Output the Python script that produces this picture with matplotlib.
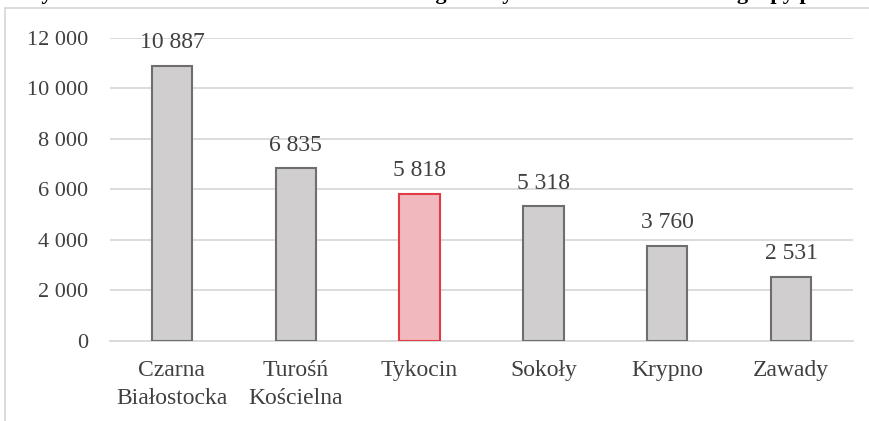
import matplotlib
matplotlib.use("Agg")
import matplotlib.pyplot as plt
from matplotlib.patches import Rectangle

categories = ["Czarna\nBiałostocka", "Turośń\nKościelna", "Tykocin", "Sokoły", "Krypno", "Zawady"]
values = [10887, 6835, 5818, 5318, 3760, 2531]
value_labels = ["10 887", "6 835", "5 818", "5 318", "3 760", "2 531"]
yticks = [0, 2000, 4000, 6000, 8000, 10000, 12000]
ytick_labels = ["0", "2 000", "4 000", "6 000", "8 000", "10 000", "12 000"]
highlight = "Tykocin"
title_text = ("Wykres 1. Liczba mieszkańców w 2021 r. w gmin Tykocin i 5 obszarach dla "
              "grupy porównawczej")

W, H = 869, 421
fig = plt.figure(figsize=(W / 100, H / 100), dpi=100)
plt.rcParams['font.family'] = ['Liberation Serif', 'DejaVu Serif']

# outer chart border
fig.patches.append(Rectangle((5 / W, -0.1), 1.1, 1 - 8 / H + 0.1, transform=fig.transFigure,
                             fill=False, edgecolor="#D9D9D9", linewidth=1.3))

# clipped title (only descenders visible)
fig.text(20 / W, 1 + 1.0 / H, title_text, ha="left", va="baseline", fontsize=16,
         fontweight="bold", color="black")

ax = fig.add_axes([110 / W, 1 - 340.7 / H, 743 / W, (340.7 - 37.7) / H])
x = range(len(categories))
fills = ["#F1B9BD" if c.replace("\n", " ") == highlight else "#D0CECE" for c in categories]
edges = ["#E03C45" if c.replace("\n", " ") == highlight else "#6E6E6E" for c in categories]
bars = ax.bar(x, values, width=0.325, color=fills, edgecolor=edges, linewidth=1.5, zorder=3)

for xi, v, lab in zip(x, values, value_labels):
    ax.annotate(lab, (xi, v), xytext=(0, 9), textcoords="offset points",
                ha="center", va="bottom", fontsize=17, color="#404040")

ax.set_xlim(-0.5, len(categories) - 0.5)
ax.set_ylim(0, 12000)
ax.set_yticks(yticks)
ax.set_yticklabels(ytick_labels, fontsize=16)
ax.set_xticks(list(x))
ax.set_xticklabels(categories, fontsize=17, linespacing=1.4)
ax.tick_params(axis="both", length=0, labelcolor="#404040")
ax.tick_params(axis="y", pad=16)
ax.tick_params(axis="x", pad=14)
ax.grid(axis="y", color="#D9D9D9", linewidth=1.3, zorder=0)
for s in ["top", "right", "left"]:
    ax.spines[s].set_visible(False)
ax.spines["bottom"].set_color("#D9D9D9")
ax.spines["bottom"].set_linewidth(1.3)
ax.set_facecolor("none")

fig.savefig("out.png", dpi=100)
